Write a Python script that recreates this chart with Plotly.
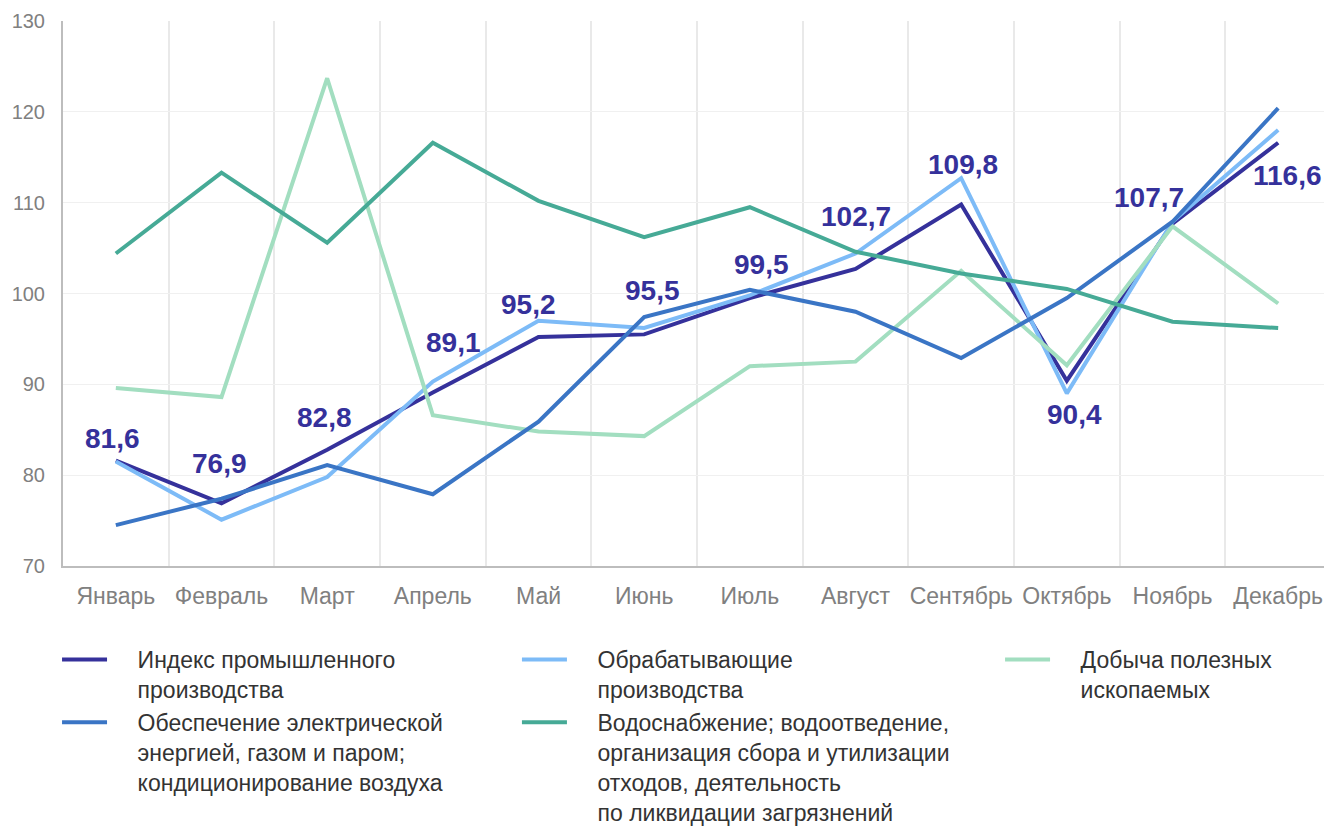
import plotly.graph_objects as go

months = ["Январь", "Февраль", "Март", "Апрель", "Май", "Июнь", "Июль",
          "Август", "Сентябрь", "Октябрь", "Ноябрь", "Декабрь"]

index_total = [81.6, 76.9, 82.8, 89.1, 95.2, 95.5, 99.5, 102.7, 109.8, 90.4, 107.7, 116.6]
manufacturing = [81.5, 75.1, 79.8, 90.3, 97.0, 96.2, 99.8, 104.4, 112.7, 89.0, 107.9, 118.0]
mining = [89.6, 88.6, 123.7, 86.6, 84.8, 84.3, 92.0, 92.5, 102.5, 92.1, 107.4, 98.9]
energy = [74.5, 77.4, 81.1, 77.9, 85.9, 97.4, 100.4, 98.0, 92.9, 99.5, 107.9, 120.4]
water = [104.4, 113.3, 105.6, 116.6, 110.2, 106.2, 109.5, 104.6, 102.2, 100.5, 96.9, 96.2]

name_lines = [
    ["Индекс промышленного", "производства"],
    ["Обрабатывающие", "производства"],
    ["Добыча полезных", "ископаемых"],
    ["Обеспечение электрической", "энергией, газом и паром;", "кондиционирование воздуха"],
    ["Водоснабжение; водоотведение,", "организация сбора и утилизации",
     "отходов, деятельность", "по ликвидации загрязнений"],
]
series = [index_total, manufacturing, mining, energy, water]
colors = ["#35319b", "#7dbbf7", "#a2dec0", "#3a75c5", "#46aa96"]
legend_ids = ["legend", "legend2", "legend3", "legend", "legend2"]

# label offsets (pixels) for data labels of the index series
label_dx = [-3, -2, -3, 21, -10, 8, 12, 0, 2, 8, -24, 9]
label_dy = [22, 40, 32, 50, 33, 44, 34, 52, 40, -34, 26, -33]

FONT = "Arial, Liberation Sans, sans-serif"
PAD = "\u00a0" * 4

fig = go.Figure()
for lines, vals, col, lg in zip(name_lines, series, colors, legend_ids):
    fig.add_trace(go.Scatter(
        x=months, y=vals, name="<br>".join(PAD + s for s in lines), mode="lines",
        line=dict(color=col, width=4), legend=lg,
        hoverinfo="skip",
    ))

for m, v, dx, dy in zip(months, index_total, label_dx, label_dy):
    fig.add_annotation(
        x=m, y=v, text=f"<b>{v:.1f}</b>".replace(".", ","),
        showarrow=False, xshift=dx, yshift=dy,
        font=dict(family=FONT, size=28, color="#35319b"),
    )

legend_common = dict(
    orientation="v", xanchor="left", yanchor="top", y=-0.132,
    font=dict(family=FONT, size=23, color="#333333"),
    itemwidth=45, valign="top", traceorder="normal",
    bgcolor="rgba(0,0,0,0)",
)

fig.update_layout(
    width=1324, height=822,
    margin=dict(l=55, r=1, t=13, b=264, autoexpand=False),
    paper_bgcolor="white", plot_bgcolor="white",
    font=dict(family=FONT),
    showlegend=True,
    legend=dict(x=-0.0047, **legend_common),
    legend2=dict(x=0.358, **legend_common),
    legend3=dict(x=0.739, **legend_common),
)
fig.update_xaxes(
    type="category", range=[-0.5, 11.5],
    showgrid=True, gridcolor="#e9e9e9", gridwidth=2,
    tickson="boundaries", tickangle=0,
    showline=True, linecolor="#bdbdbd", linewidth=2,
    ticks="", ticklabelstandoff=8, automargin=False,
    tickfont=dict(family=FONT, size=23, color="#808080"),
    fixedrange=True,
)
fig.update_yaxes(
    range=[70, 130], dtick=10, tick0=70,
    showgrid=True, gridcolor="#f0f0f0", gridwidth=1,
    showline=True, linecolor="#bdbdbd", linewidth=2,
    zeroline=False, ticks="", ticklabelstandoff=12, automargin=False,
    tickfont=dict(family=FONT, size=20, color="#808080"),
    fixedrange=True,
)

fig.write_html("out.html")
